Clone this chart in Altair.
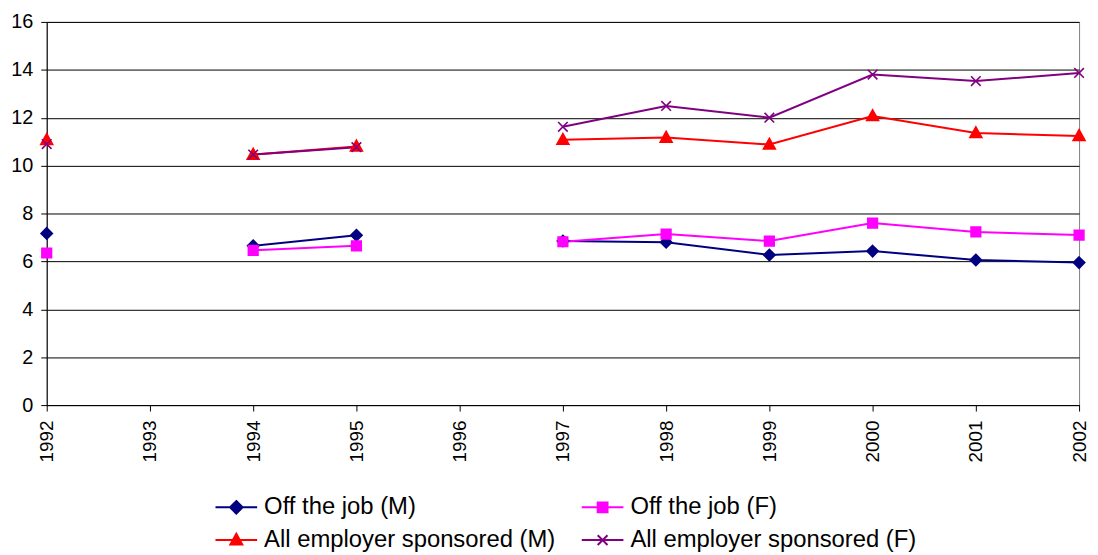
import altair as alt
import pandas as pd

years = [1992, 1993, 1994, 1995, 1996, 1997, 1998, 1999, 2000, 2001, 2002]
series_names = [
    "Off the job (M)",
    "Off the job (F)",
    "All employer sponsored (M)",
    "All employer sponsored (F)",
]
off_job_m = [7.17, None, 6.65, 7.09, None, 6.85, 6.8, 6.27, 6.43, 6.06, 5.95]
off_job_f = [6.35, None, 6.46, 6.65, None, 6.82, 7.14, 6.85, 7.6, 7.23, 7.1]
emp_m = [11.07, None, 10.46, 10.8, None, 11.08, 11.17, 10.88, 12.07, 11.36, 11.24]
emp_f = [10.9, None, 10.46, 10.77, None, 11.62, 12.49, 12.0, 13.8, 13.53, 13.87]
colors = ["#000080", "#FF00FF", "#FF0000", "#800080"]
y_ticks = [0, 2, 4, 6, 8, 10, 12, 14, 16]

marker_paths = [
    "M0,-1L1,0L0,1L-1,0Z",
    "M-0.85,-0.85H0.85V0.85H-0.85Z",
    "M0,-1.1L1.05,0.8H-1.05Z",
    "M-0.85,-0.85L0.85,0.85M-0.85,0.85L0.85,-0.85",
]
legend_paths = [
    "M-1.4,0H1.4M0,-0.42L0.42,0L0,0.42L-0.42,0Z",
    "M-1.4,0H1.4M-0.33,-0.33H0.33V0.33H-0.33Z",
    "M-1.4,0H1.4M0,-0.42L0.4,0.3H-0.4Z",
    "M-1.4,0H1.4M-0.33,-0.33L0.33,0.33M-0.33,0.33L0.33,-0.33",
]

rows = []
for name, vals in zip(series_names, [off_job_m, off_job_f, emp_m, emp_f]):
    seg = 0
    for yr, v in zip(years, vals):
        if v is None:
            seg += 1
            continue
        rows.append({"year": yr, "value": v, "series": name, "segment": f"{name}-{seg}"})
df = pd.DataFrame(rows)

font = "Liberation Sans"

x_enc = alt.X(
    "year:Q",
    scale=alt.Scale(domain=[years[0], years[-1]], nice=False, zero=False),
    axis=alt.Axis(
        title=None, values=years, format="d", labelAngle=270, labelFontSize=19,
        labelFont=font, labelColor="black", labelPadding=9, tickSize=6,
        tickColor="black", domainColor="black", grid=False,
    ),
)
y_axis = alt.Axis(
    title=None, values=y_ticks, labelFontSize=20, labelFont=font,
    labelColor="black", labelPadding=8, tickSize=6, tickColor="black",
    domainColor="black", grid=True, gridColor="black", gridWidth=1,
    gridOpacity=1,
)
y_enc = alt.Y("value:Q", scale=alt.Scale(domain=[0, 16], nice=False), axis=y_axis)

base = alt.Chart(df)

line_layers = []
point_layers = []
for name, col, path in zip(series_names, colors, marker_paths):
    sub = base.transform_filter(alt.datum.series == name)
    line_layers.append(
        sub.mark_line(stroke=col, strokeWidth=2).encode(x=x_enc, y=y_enc, detail="segment:N")
    )
    point_layers.append(
        sub.mark_point(
            shape=path, filled=True, fill=col, stroke=col, strokeWidth=1.6,
            size=130, opacity=1,
        ).encode(x=x_enc, y=y_enc)
    )

legend_def = alt.Legend(
    title=None,
    orient="none",
    legendX=175,
    legendY=473,
    direction="horizontal",
    columns=2,
    columnPadding=22,
    rowPadding=5,
    padding=0,
    labelFontSize=24,
    labelFont=font,
    labelColor="black",
    labelLimit=0,
    labelOffset=12,
    symbolSize=900,
    symbolStrokeWidth=2,
    symbolOpacity=1,
)

legend_layer = (
    base.transform_filter("false")
    .mark_point(filled=True, opacity=1, strokeWidth=2)
    .encode(
        x=x_enc,
        y=y_enc,
        color=alt.Color("series:N", scale=alt.Scale(domain=series_names, range=colors), legend=legend_def),
        stroke=alt.Stroke("series:N", scale=alt.Scale(domain=series_names, range=colors), legend=legend_def),
        shape=alt.Shape("series:N", scale=alt.Scale(domain=series_names, range=legend_paths), legend=legend_def),
    )
)

chart = (
    alt.layer(*line_layers, *point_layers, legend_layer)
    .properties(
        width=1040,
        height=386,
        autosize=alt.AutoSizeParams(type="none"),
        padding={"left": 39, "top": 12, "right": 11, "bottom": 149},
        background="white",
    )
    .configure_view(stroke="#808080", strokeWidth=1)
)

chart.save("out.html", embed_options={"renderer": "svg", "actions": False})
